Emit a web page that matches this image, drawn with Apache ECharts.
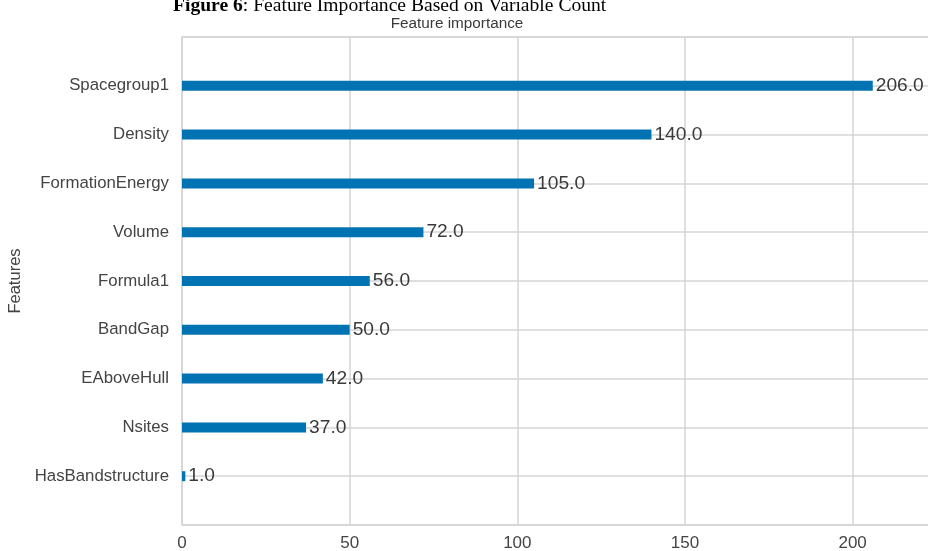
<!DOCTYPE html>
<html>
<head>
<meta charset="utf-8">
<script src="https://cdn.jsdelivr.net/npm/echarts@6/dist/echarts.min.js"></script>
<style>
  html, body { margin: 0; padding: 0; background: #fff; }
  #chart { width: 928px; height: 551px; }
</style>
</head>
<body>
<div id="chart"></div>
<script>
// Feature names, top to bottom
const features = ['Spacegroup1', 'Density', 'FormationEnergy', 'Volume', 'Formula1',
                  'BandGap', 'EAboveHull', 'Nsites', 'HasBandstructure'];
// Split counts per feature
const importance = [206, 140, 105, 72, 56, 50, 42, 37, 1];
// Value axis ticks
const xTicks = [0, 50, 100, 150, 200];

// One empty slot above and below keeps a full row of space at both ends
const yCats = [''].concat(features, ['']);
const yVals = [null].concat(importance, [null]);

const chart = echarts.init(document.getElementById('chart'), null, { renderer: 'canvas' });

const gridColor = '#d4d4d4';
const textColor = '#444444';
const font = 'Liberation Sans, Arial, sans-serif';

chart.setOption({
  animation: false,
  backgroundColor: '#ffffff',
  title: {
    text: 'Feature importance',
    left: 452,
    top: 11,
    textAlign: 'center',
    textStyle: { fontFamily: font, fontSize: 15.3, fontWeight: 'normal', color: '#3a3a3a' }
  },
  graphic: [{
    type: 'text',
    left: 173,
    top: -4,
    style: {
      rich: {
        b: { fontFamily: 'Liberation Serif, Times New Roman, serif', fontSize: 19.6, fontWeight: 'bold', fill: '#000' },
        r: { fontFamily: 'Liberation Serif, Times New Roman, serif', fontSize: 19.6, fill: '#000' }
      },
      text: '{b|Figure 6}{r|: Feature Importance Based on Variable Count}'
    }
  }],
  grid: {
    left: 182, top: 37, bottom: 26, width: 788,
    outerBoundsMode: 'none',
    show: true, borderColor: gridColor, borderWidth: 1.5, containLabel: false
  },
  xAxis: {
    type: 'value',
    min: xTicks[0],
    max: 235,
    interval: xTicks[1] - xTicks[0],
    axisLine: { show: false },
    axisTick: { show: false },
    splitLine: { show: true, lineStyle: { color: gridColor, width: 1.5 } },
    axisLabel: {
      showMaxLabel: false,
      margin: 10,
      fontFamily: font, fontSize: 17, color: textColor,
      formatter: v => (xTicks.indexOf(v) >= 0 ? String(v) : '')
    }
  },
  yAxis: {
    type: 'category',
    data: yCats,
    inverse: true,
    boundaryGap: false,
    name: 'Features',
    nameLocation: 'middle',
    nameGap: 155,
    nameRotate: 90,
    nameTextStyle: { fontFamily: font, fontSize: 16.5, color: textColor },
    axisLine: { show: false },
    axisTick: { show: false },
    splitLine: { show: true, lineStyle: { color: gridColor, width: 1.5 } },
    axisLabel: { margin: 13, fontFamily: font, fontSize: 16.8, color: textColor, interval: 0 }
  },
  series: [{
    type: 'bar',
    data: yVals,
    barWidth: 10,
    itemStyle: { color: '#0173b2' },
    label: {
      show: true,
      position: 'right',
      distance: 3,
      fontFamily: font,
      fontSize: 19.2,
      color: '#3a3a3a',
      formatter: p => p.value.toFixed(1)
    }
  }]
});
</script>
</body>
</html>
